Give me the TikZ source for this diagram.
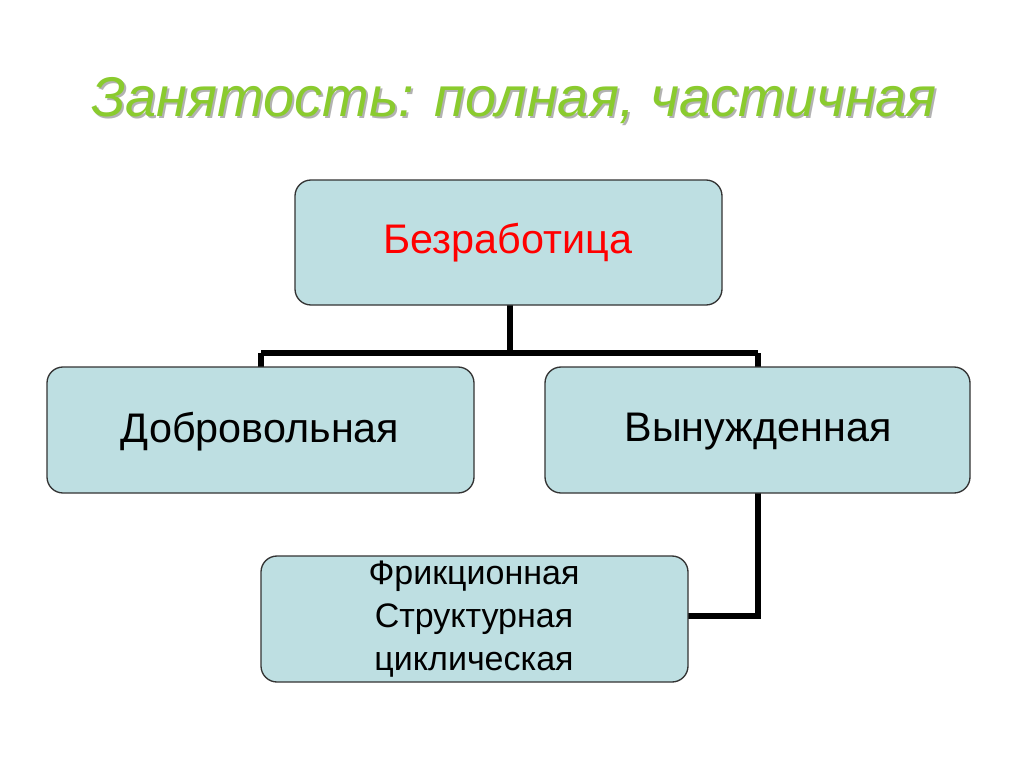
\documentclass[tikz,border=0pt]{standalone}
\usepackage{fontspec}
\setmainfont{Liberation Sans}
\begin{document}
\begin{tikzpicture}[x=0.75pt,y=-0.75pt,
 box/.style={draw=black!80,line width=1pt,fill=boxc,rounded corners=12pt},
 conn/.style={line width=4.5pt}]
\definecolor{boxc}{HTML}{BEDFE2}
\definecolor{titc}{HTML}{8ACB2E}
\useasboundingbox (0,0) rectangle (1024,767);
\fill[white] (0,0) rectangle (1024,767);
\node[text=black!30] (tsh) at (516,103) {\fontsize{42}{46}\selectfont\itshape Занятость: полная, частичная};
\node[text=titc] (title) at (514,101) {\fontsize{42}{46}\selectfont\itshape Занятость: полная, частичная};
\coordinate (j1) at (510,353);
\coordinate (jl) at (261,353);
\coordinate (jr) at (758,353);
\coordinate (j2) at (758,616);
\draw[conn] (510,305) -- (j1);
\draw[conn] (jl) -- (jr);
\draw[conn] (261,367) -- (jl);
\draw[conn] (758,367) -- (jr);
\draw[conn] (758,493) -- (j2) -- (688,616);
\draw[box] (295,180) rectangle (722,305);
\node[text=red] (b) at (508,243) {\fontsize{31}{36}\selectfont Безработица};
\draw[box] (47,367) rectangle (474,493);
\node (d) at (260,432) {\fontsize{31}{36}\selectfont Добровольная};
\draw[box] (545,367) rectangle (970,493);
\node (v) at (758,432) {\fontsize{31}{36}\selectfont Вынужденная};
\draw[box] (261,556) rectangle (688,682);
\node[align=center,font=\fontsize{25.5}{32.5}\selectfont] (f) at (474,619) {Фрикционная\\Структурная\\циклическая};
\end{tikzpicture}
\end{document}
